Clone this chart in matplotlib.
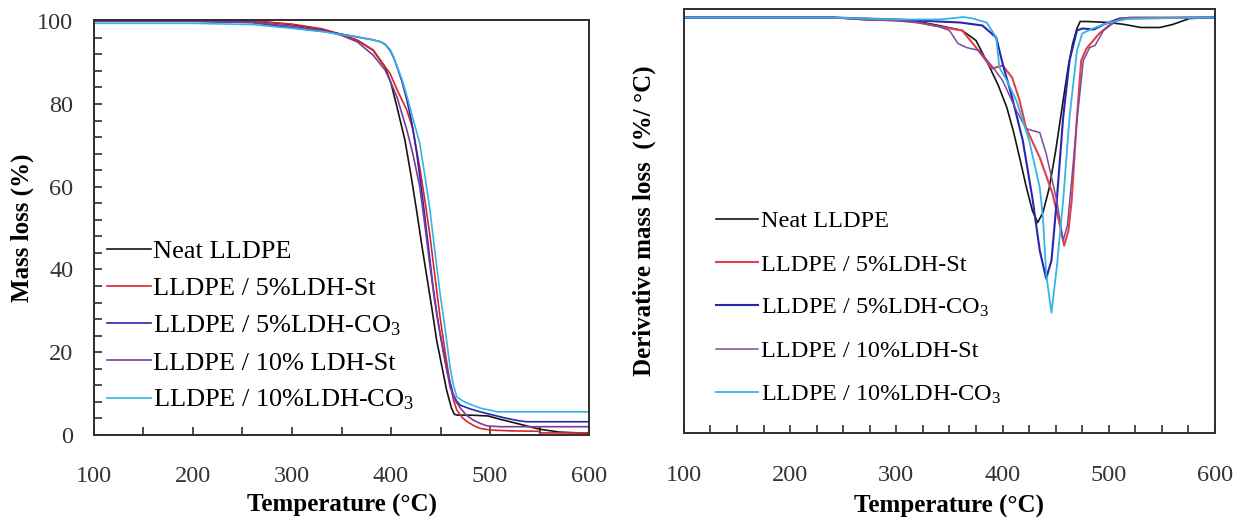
from __future__ import annotations

import matplotlib

matplotlib.use("Agg")
import matplotlib.pyplot as plt
from matplotlib.ticker import MultipleLocator

plt.rcParams["font.family"] = ["Liberation Serif", "DejaVu Serif"]
plt.rcParams["mathtext.fontset"] = "custom"
plt.rcParams["mathtext.rm"] = "Liberation Serif"
plt.rcParams["mathtext.it"] = "Liberation Serif"

SERIES_LABELS_TGA = [
    "Neat LLDPE",
    "LLDPE / 5%LDH-St",
    "LLDPE / 5%LDH-CO$_3$",
    "LLDPE / 10% LDH-St",
    "LLDPE / 10%LDH-CO$_3$",
]
SERIES_LABELS_DTG = [
    "Neat LLDPE",
    "LLDPE / 5%LDH-St",
    "LLDPE / 5%LDH-CO$_3$",
    "LLDPE / 10%LDH-St",
    "LLDPE / 10%LDH-CO$_3$",
]

# --- TGA: mass loss (%) vs temperature (C)
tga_neat_t = [100, 200, 260, 300, 330, 350, 366, 382, 394, 400, 406, 414, 420, 426, 431,
              436, 441, 446, 451, 456, 461, 464, 467, 480, 498, 510, 527, 550, 570, 600]
tga_neat_m = [100.3, 100.3, 100.1, 99.2, 98.0, 96.8, 95.4, 93.0, 88.9, 85.0, 79.3, 71.3, 63.0, 54.0, 46.0,
              38.5, 31.0, 23.0, 17.0, 11.0, 6.5, 5.0, 4.8, 4.8, 4.6, 3.8, 2.8, 1.4, 0.7, 0.4]

tga_st5_t = [100, 200, 260, 300, 330, 350, 366, 382, 394, 399, 406, 416, 422, 429, 434, 439,
             444, 449.5, 455, 459.6, 463, 466.5, 472, 477, 484, 490, 500, 520, 548, 552, 600]
tga_st5_m = [100.2, 100.2, 100.1, 99.3, 98.2, 96.8, 95.4, 93.0, 89.0, 87.4, 83.5, 78.5, 74.0, 64.7, 57.0, 48.8,
             39.0, 28.5, 19.5, 12.5, 8.5, 6.0, 4.2, 3.2, 2.2, 1.6, 1.2, 1.0, 0.9, 0.5, 0.5]

tga_co5_t = [100, 200, 260, 300, 330, 350, 366, 382, 390, 394, 399, 403, 406, 411, 416, 421, 426,
             432, 437, 442, 447, 452.5, 457, 462.6, 466, 470, 480, 490, 505, 517, 530, 537, 600]
tga_co5_m = [100.0, 100.0, 99.7, 98.4, 97.6, 96.9, 96.2, 95.5, 95.0, 94.4, 93.0, 91.0, 89.0, 85.5, 81.0, 75.5, 68.0,
             57.0, 47.0, 36.7, 28.0, 20.5, 15.0, 10.0, 8.3, 7.2, 6.3, 5.6, 4.7, 4.0, 3.4, 3.2, 3.2]

tga_st10_t = [100, 200, 260, 300, 330, 350, 366, 382, 394, 399, 406, 416, 422, 429, 434, 439,
              444, 449.5, 455, 459.6, 465, 470, 476, 483, 490, 497, 510, 600]
tga_st10_m = [100.0, 100.0, 99.7, 98.8, 97.8, 96.6, 95.0, 91.8, 88.2, 85.7, 81.7, 73.7, 68.0, 60.0, 51.0, 41.5,
              32.5, 24.6, 17.5, 11.6, 8.3, 6.5, 4.8, 3.6, 2.8, 2.2, 2.0, 2.0]

tga_co10_t = [100, 200, 260, 300, 330, 350, 366, 382, 390, 394, 399, 403, 406, 411, 416, 421, 429,
              434, 439, 444, 449.5, 455, 459.6, 463, 466.5, 472, 477, 490, 500, 507, 520, 600]
tga_co10_m = [99.5, 99.5, 99.2, 98.3, 97.5, 96.8, 96.2, 95.5, 95.0, 94.5, 93.2, 91.2, 89.2, 86.0, 82.0, 77.5, 70.5,
              63.0, 55.0, 45.0, 34.3, 25.0, 16.4, 12.0, 9.2, 8.3, 7.7, 6.5, 6.0, 5.6, 5.6, 5.6]

# --- DTG: derivative mass loss (%/C) vs temperature (C)
dtg_neat_t = [100, 240, 270, 300, 320, 340, 362, 375, 388, 396, 404, 410, 416, 422, 428, 433, 438,
              444, 450, 457, 462, 466, 470, 473, 480, 500, 515, 530, 548, 560, 576, 600]
dtg_neat_v = [0, 0, -0.02, -0.03, -0.04, -0.08, -0.13, -0.23, -0.50, -0.68, -0.90, -1.13, -1.40, -1.68, -1.93,
              -2.05, -1.95, -1.70, -1.33, -0.83, -0.48, -0.26, -0.11, -0.04, -0.04, -0.05, -0.07, -0.10, -0.10,
              -0.07, -0.01, 0]

dtg_st5_t = [100, 240, 270, 300, 320, 340, 362, 375, 390, 400, 409, 416, 422, 435, 447, 453, 458,
             462, 465, 468, 470, 474, 479, 491, 500, 508, 520, 600]
dtg_st5_v = [0, 0, -0.02, -0.03, -0.05, -0.09, -0.13, -0.30, -0.51, -0.48, -0.60, -0.83, -1.10, -1.40, -1.76,
             -2.03, -2.28, -2.13, -1.83, -1.33, -1.00, -0.43, -0.31, -0.16, -0.08, -0.03, 0, 0]

dtg_co5_t = [100, 240, 300, 340, 360, 381, 394, 400, 409, 419, 428, 435, 441, 446, 451, 457, 463,
             470, 475, 486, 495, 510, 600]
dtg_co5_v = [0, 0, -0.02, -0.04, -0.05, -0.08, -0.20, -0.46, -0.80, -1.23, -1.80, -2.33, -2.61, -2.43, -1.83,
             -1.00, -0.43, -0.13, -0.11, -0.12, -0.07, -0.01, 0]

dtg_st10_t = [100, 240, 270, 300, 320, 340, 350, 358, 366, 378, 391, 400, 413, 422, 428, 435, 441,
              451, 457, 461, 465, 470, 476, 482, 487, 495, 510, 600]
dtg_st10_v = [0, 0, -0.02, -0.03, -0.05, -0.09, -0.13, -0.26, -0.30, -0.33, -0.50, -0.63, -0.93, -1.11, -1.13,
              -1.15, -1.36, -1.83, -2.23, -2.08, -1.63, -1.03, -0.43, -0.30, -0.28, -0.13, -0.01, 0]

dtg_co10_t = [100, 240, 300, 340, 355, 363, 372, 385, 394, 397, 404, 413, 425, 435, 438, 441, 446,
              451, 457, 463, 470, 475, 485, 500, 520, 600]
dtg_co10_v = [0, 0, -0.02, -0.02, -0.005, 0.005, -0.01, -0.05, -0.20, -0.50, -0.63, -0.83, -1.23, -1.70, -2.00,
              -2.56, -2.95, -2.50, -1.83, -1.00, -0.33, -0.16, -0.11, -0.05, -0.01, 0]

TGA_COLORS = ["#151515", "#d8262b", "#2626b0", "#7c3c98", "#35b4e6"]
DTG_COLORS = ["#151515", "#e2404c", "#2626b0", "#7c4c9c", "#35b4e6"]
SPINE_COLOR = "#2e2e2e"


def _style_frame(ax) -> None:
    for spine in ax.spines.values():
        spine.set_color(SPINE_COLOR)
        spine.set_linewidth(1.4)


def draw_tga(ax) -> None:
    curves = [
        (tga_neat_t, tga_neat_m),
        (tga_st5_t, tga_st5_m),
        (tga_co5_t, tga_co5_m),
        (tga_st10_t, tga_st10_m),
        (tga_co10_t, tga_co10_m),
    ]
    for (t, m), color, label in zip(curves, TGA_COLORS, SERIES_LABELS_TGA):
        ax.plot(t, m, color=color, lw=1.2, label=label)

    ax.set_xlim(100, 600)
    ax.set_ylim(0, 100.3)
    ax.xaxis.set_major_locator(MultipleLocator(100))
    ax.xaxis.set_minor_locator(MultipleLocator(50))
    ax.yaxis.set_major_locator(MultipleLocator(20))
    ax.yaxis.set_minor_locator(MultipleLocator(4))
    ax.tick_params(axis="x", which="both", direction="in", length=6, width=1.2,
                   color=SPINE_COLOR, pad=22, labelsize=17.5, labelcolor="#333333")
    ax.tick_params(axis="y", which="both", direction="in", length=6, width=1.2,
                   color=SPINE_COLOR, pad=15, labelsize=17.5, labelcolor="#333333")
    ax.set_xlabel("Temperature (°C)", fontsize=18, fontweight="bold", labelpad=5)
    ax.set_ylabel("Mass loss (%)", fontsize=18, fontweight="bold", labelpad=2)
    _style_frame(ax)

    ax.legend(loc="upper left", bbox_to_anchor=(0.026, 0.47), frameon=False,
              fontsize=19, handlelength=1.67, handletextpad=0.08, labelspacing=0.5,
              borderpad=0, borderaxespad=0)


def draw_dtg(ax) -> None:
    curves = [
        (dtg_neat_t, dtg_neat_v),
        (dtg_st5_t, dtg_st5_v),
        (dtg_co5_t, dtg_co5_v),
        (dtg_st10_t, dtg_st10_v),
        (dtg_co10_t, dtg_co10_v),
    ]
    widths = [1.2, 1.5, 1.5, 1.1, 1.3]
    for (t, v), color, lw, label in zip(curves, DTG_COLORS, widths, SERIES_LABELS_DTG):
        ax.plot(t, v, color=color, lw=lw, label=label)

    ax.set_xlim(100, 600)
    ax.set_ylim(-4.155, 0.085)
    ax.xaxis.set_major_locator(MultipleLocator(100))
    ax.xaxis.set_minor_locator(MultipleLocator(25))
    ax.set_yticks([])
    ax.tick_params(axis="x", which="both", direction="in", length=6, width=1.2,
                   color=SPINE_COLOR, pad=23, labelsize=17.5, labelcolor="#333333")
    ax.set_xlabel("Temperature (°C)", fontsize=18, fontweight="bold", labelpad=6)
    ax.set_ylabel("Derivative mass loss  (%/ °C)", fontsize=18, fontweight="bold", labelpad=20)
    _style_frame(ax)

    ax.legend(loc="upper left", bbox_to_anchor=(0.06, 0.525), frameon=False,
              fontsize=17.5, handlelength=1.73, handletextpad=0.12, labelspacing=0.87,
              borderpad=0, borderaxespad=0)


def main() -> None:
    fig = plt.figure(figsize=(12.48, 5.2), dpi=100)
    ax_tga = fig.add_axes([0.0753, 0.1635, 0.3967, 0.798])
    ax_dtg = fig.add_axes([0.548, 0.167, 0.4256, 0.8157])
    draw_tga(ax_tga)
    draw_dtg(ax_dtg)
    fig.savefig("out.png", dpi=100)
    plt.close(fig)


if __name__ == "__main__":
    main()
